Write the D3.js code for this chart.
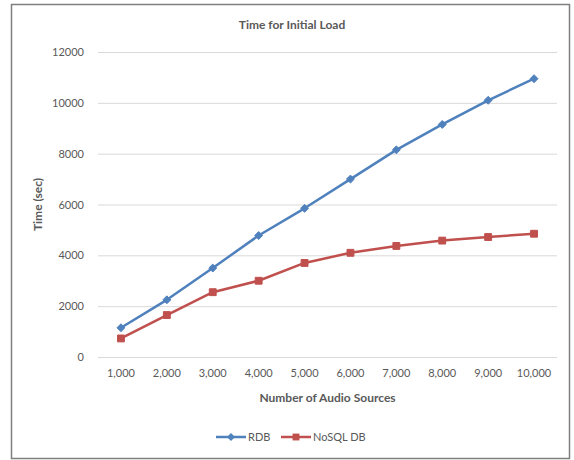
<!DOCTYPE html>
<html>
<head>
<meta charset="utf-8">
<script src="https://cdn.jsdelivr.net/npm/d3@7"></script>
<style>
  body { margin: 0; background: #fff; }
  text { font-family: Lato, "Open Sans", sans-serif; fill: #595959; }
</style>
</head>
<body>
<div id="chart-container"></div>
<script>
// Data
const sources = ["1,000", "2,000", "3,000", "4,000", "5,000", "6,000", "7,000", "8,000", "9,000", "10,000"];
const rdbTimes = [1150, 2250, 3500, 4780, 5850, 7000, 8150, 9150, 10100, 10950];
const nosqlTimes = [730, 1650, 2550, 3000, 3700, 4100, 4370, 4580, 4720, 4850];
const yTicks = [0, 2000, 4000, 6000, 8000, 10000, 12000];

const series = [
  { name: "RDB", values: rdbTimes, color: "#4F81BD", marker: "diamond" },
  { name: "NoSQL DB", values: nosqlTimes, color: "#C0504D", marker: "square" },
];

const width = 574;
const height = 460;
const margin = { top: 52, right: 17, bottom: 103, left: 98 };

const svg = d3
  .select("#chart-container")
  .append("svg")
  .attr("width", width)
  .attr("height", height);

// Outer chart frame
svg
  .append("rect")
  .attr("x", 11.5)
  .attr("y", 4.5)
  .attr("width", 558)
  .attr("height", 454)
  .attr("fill", "#fff")
  .attr("stroke", "#7f7f7f")
  .attr("stroke-width", 1.5);

const x = d3
  .scaleBand()
  .domain(sources)
  .range([margin.left, width - margin.right]);

const y = d3
  .scaleLinear()
  .domain([0, 12000])
  .range([height - margin.bottom, margin.top]);

// Gridlines
svg
  .append("g")
  .attr("class", "grid")
  .attr("transform", `translate(${margin.left},0)`)
  .call(
    d3.axisLeft(y)
      .tickValues(yTicks)
      .tickSize(-(width - margin.left - margin.right))
      .tickFormat("")
  )
  .call((g) => g.select(".domain").remove())
  .call((g) => g.selectAll("line").attr("stroke", "#d9d9d9"));

// Y axis labels
svg
  .append("g")
  .attr("transform", `translate(${margin.left - 11},0)`)
  .call(d3.axisLeft(y).tickValues(yTicks).tickSize(0).tickFormat(d3.format("d")))
  .call((g) => g.select(".domain").remove())
  .call((g) => g.selectAll("text").style("font-size", "11px"));

// X axis labels
svg
  .append("g")
  .attr("transform", `translate(0,${height - margin.bottom + 9})`)
  .call(d3.axisBottom(x).tickSize(0))
  .call((g) => g.select(".domain").remove())
  .call((g) => g.selectAll("text").style("font-size", "11px"));

// Title
svg
  .append("text")
  .attr("x", 292)
  .attr("y", 29)
  .attr("text-anchor", "middle")
  .style("font-size", "12px")
  .style("font-weight", "bold")
  .text("Time for Initial Load");

// Axis titles
svg
  .append("text")
  .attr("x", (margin.left + width - margin.right) / 2)
  .attr("y", 402)
  .attr("text-anchor", "middle")
  .style("font-size", "12px")
  .style("font-weight", "bold")
  .text("Number of Audio Sources");

svg
  .append("text")
  .attr("transform", `translate(42,${(margin.top + height - margin.bottom) / 2}) rotate(-90)`)
  .attr("text-anchor", "middle")
  .style("font-size", "12px")
  .style("font-weight", "bold")
  .text("Time (sec)");

const line = d3
  .line()
  .x((d, i) => x(sources[i]) + x.bandwidth() / 2)
  .y((d) => y(d));

const symbolFor = (m) =>
  m === "diamond"
    ? d3.symbol().type(d3.symbolDiamond2).size(40)
    : d3.symbol().type(d3.symbolSquare2).size(60);

series.forEach((s) => {
  svg
    .append("path")
    .datum(s.values)
    .attr("fill", "none")
    .attr("stroke", s.color)
    .attr("stroke-width", 2.5)
    .attr("stroke-linejoin", "round")
    .attr("d", line);

  svg
    .append("g")
    .selectAll("path")
    .data(s.values)
    .join("path")
    .attr("transform", (d, i) => `translate(${x(sources[i]) + x.bandwidth() / 2},${y(d)})`)
    .attr("d", symbolFor(s.marker)())
    .attr("fill", s.color)
    .attr("stroke", s.color)
    .attr("stroke-width", 1);
});

// Legend
const legendItems = [
  { s: series[0], x: 216 },
  { s: series[1], x: 281 },
];
legendItems.forEach(({ s, x: lx }) => {
  const g = svg.append("g").attr("transform", `translate(${lx},437)`);
  g.append("line")
    .attr("x1", 0)
    .attr("x2", 30)
    .attr("stroke", s.color)
    .attr("stroke-width", 2.5);
  g.append("path")
    .attr("transform", "translate(15,0)")
    .attr("d", symbolFor(s.marker)())
    .attr("fill", s.color);
  g.append("text")
    .attr("x", 32)
    .attr("dy", "0.35em")
    .style("font-size", "11px")
    .text(s.name);
});
</script>
</body>
</html>
